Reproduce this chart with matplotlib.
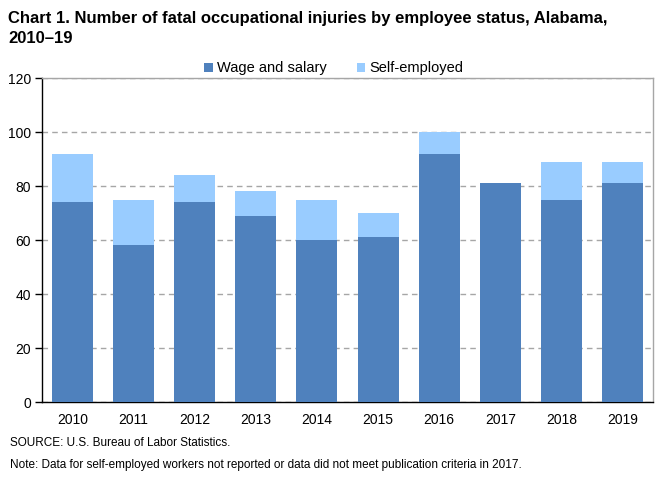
import matplotlib
matplotlib.use("Agg")
import matplotlib.pyplot as plt
import numpy as np

plt.rcParams['font.family'] = ['Liberation Sans', 'DejaVu Sans']

years = ["2010", "2011", "2012", "2013", "2014", "2015", "2016", "2017", "2018", "2019"]
wage_and_salary = [74, 58, 74, 69, 60, 61, 92, 81, 75, 81]
self_employed = [18, 17, 10, 9, 15, 9, 8, 0, 14, 8]

dark_blue = "#4F81BD"
light_blue = "#99CCFF"

fig = plt.figure(figsize=(6.61, 4.86), dpi=100)
ax = fig.add_axes([0.0635, 0.1728, 0.9245, 0.6667])

x = np.arange(len(years))
ax.bar(x, wage_and_salary, width=0.67, color=dark_blue, label="Wage and salary", zorder=3)
ax.bar(x, self_employed, width=0.67, bottom=wage_and_salary, color=light_blue,
       label="Self-employed", zorder=3)

ax.set_xlim(-0.5, len(years) - 0.5)
ax.set_ylim(0, 120)
ax.set_yticks(range(0, 121, 20))
ax.set_xticks(x)
ax.set_xticklabels(years)
ax.tick_params(axis="x", length=0, pad=8, labelsize=10)
ax.tick_params(axis="y", length=5, width=1, direction="out", labelsize=10, pad=3)

ax.yaxis.grid(True, linestyle=(0, (4, 3)), color="#A6A6A6", linewidth=1, zorder=0)
ax.spines["left"].set_color("black")
ax.spines["bottom"].set_color("black")
ax.spines["top"].set_color("#A6A6A6")
ax.spines["right"].set_color("#A6A6A6")
for s in ax.spines.values():
    s.set_linewidth(1)

ax.legend(loc="lower center", bbox_to_anchor=(0.478, 0.99), ncol=2, frameon=False,
          fontsize=10.5, handlelength=0.55, handleheight=0.55, handletextpad=0.3,
          columnspacing=2.1, borderaxespad=0.0)

# title, two lines, baselines near y=23 and y=43 px
fig.text(0.012, 1 - 23 / 486, "Chart 1. Number of fatal occupational injuries by employee status, Alabama,",
         fontsize=12, fontweight="bold", va="baseline", ha="left")
fig.text(0.012, 1 - 43 / 486, "2010\u201319",
         fontsize=12, fontweight="bold", va="baseline", ha="left")

fig.text(0.015, 0.088, "SOURCE: U.S. Bureau of Labor Statistics.", fontsize=8.5, va="center")
fig.text(0.015, 0.043, "Note: Data for self-employed workers not reported or data did not meet publication criteria in 2017.",
         fontsize=8.5, va="center")

fig.savefig("out.png", dpi=100)
